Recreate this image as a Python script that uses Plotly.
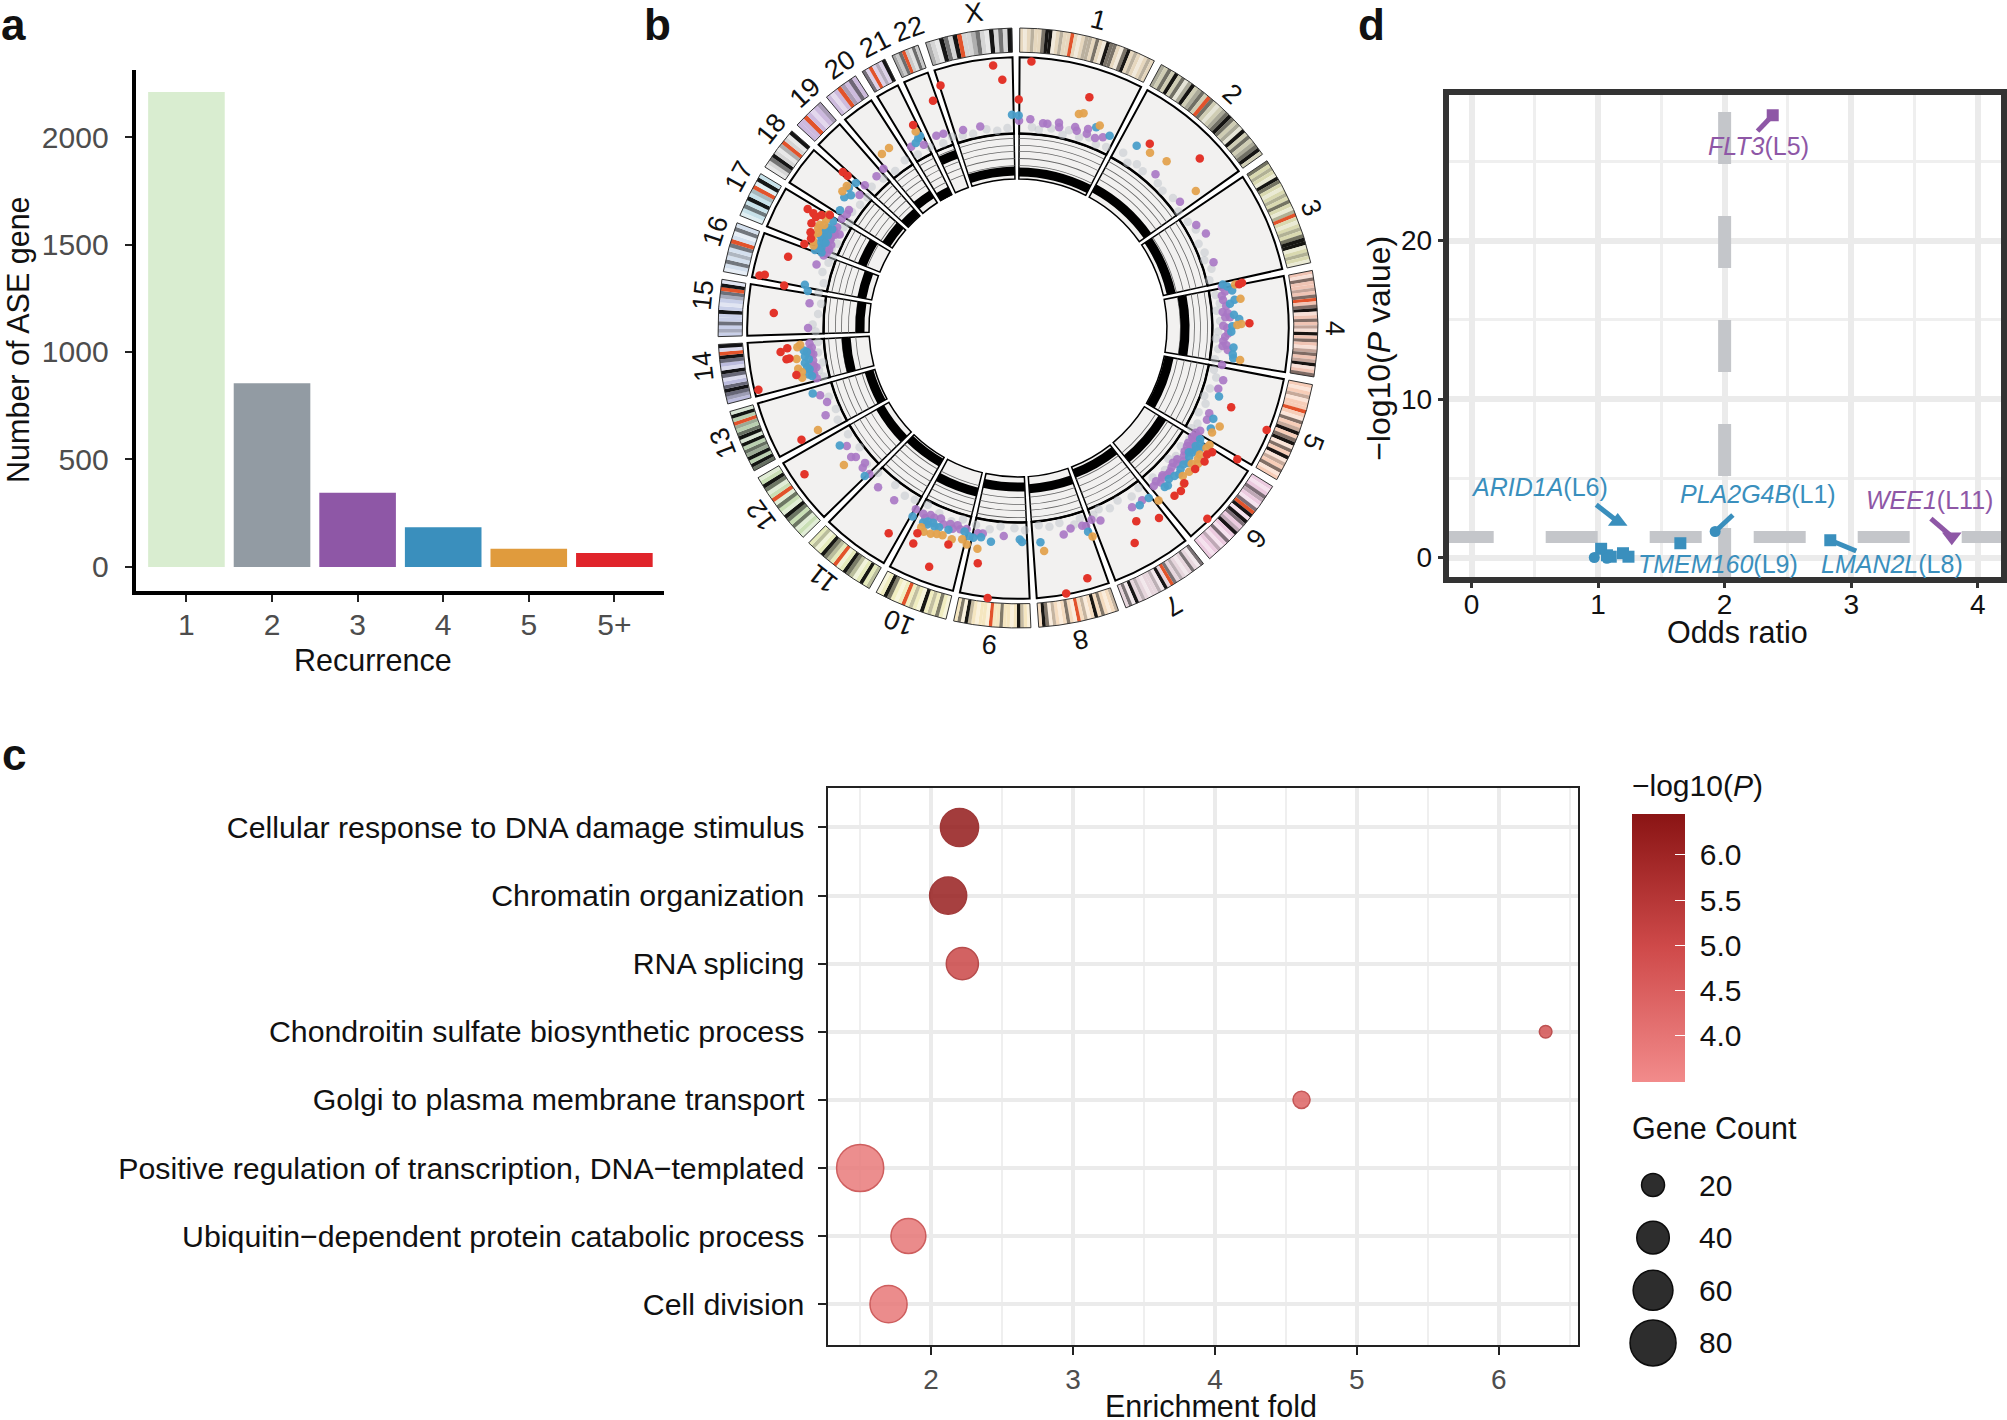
import math
import plotly.graph_objects as go

W, H = 2007, 1420
FONT = "Liberation Sans"

# ---------- panel a ----------
recurrence = ["1", "2", "3", "4", "5", "5+"]
ase_genes = [2210, 855, 345, 185, 85, 65]
bar_colors = ["#d9edd0", "#929ba3", "#8e57a6", "#3a8fbd", "#e09b3d", "#e0242a"]

# ---------- panel c ----------
terms = ["Cellular response to DNA damage stimulus", "Chromatin organization", "RNA splicing",
         "Chondroitin sulfate biosynthetic process", "Golgi to plasma membrane transport",
         "Positive regulation of transcription, DNA\u2212templated",
         "Ubiquitin\u2212dependent protein catabolic process", "Cell division"]
enrichment = [2.2, 2.12, 2.22, 6.33, 4.61, 1.5, 1.84, 1.7]
gene_count = [55, 52, 39, 6, 11, 84, 46, 52]
log_p = [6.25, 6.15, 5.05, 4.75, 4.35, 3.85, 3.95, 3.9]
legend_counts = [20, 40, 60, 80]

# ---------- panel d ----------
odds_sq = [2.38, 1.65, 1.024, 1.07, 1.1, 1.197, 1.24, 2.835]
logp_sq = [27.9, 0.9, 0.55, 0.14, 0.05, 0.27, 0.05, 1.09]
sq_colors = ["#8e57a6"] + ["#3a8fbd"] * 7
odds_circ = [1.925, 0.97, 1.07]
logp_circ = [1.64, 0.0, -0.05]
seg_x = [[2.38, 2.26], [1.155, 0.985], [1.925, 2.065], [2.835, 3.04], [3.795, 3.63]]
seg_y = [[27.9, 26.9], [2.27, 3.33], [1.64, 2.68], [1.09, 0.41], [1.31, 2.46]]
seg_c = ["#8e57a6", "#3a8fbd", "#3a8fbd", "#3a8fbd", "#8e57a6"]
gene_labels = [("FLT3", "L5", 2.27, 25.95, "#8e57a6"), ("ARID1A", "L6", 0.537, 4.45, "#3a8fbd"),
               ("PLA2G4B", "L1", 2.26, 4.0, "#3a8fbd"), ("WEE1", "L11", 3.62, 3.63, "#8e57a6"),
               ("TMEM160", "L9", 1.95, -0.38, "#3a8fbd"), ("LMAN2L", "L8", 3.32, -0.38, "#3a8fbd")]

# ---------- panel b ----------
chroms = ["1", "2", "3", "4", "5", "6", "7", "8", "9", "10", "11", "12", "13", "14", "15", "16",
          "17", "18", "19", "20", "21", "22", "X"]
chrom_len = [248, 242, 198, 190, 181, 171, 159, 145, 138, 133, 135, 133, 114, 107, 102, 90, 83, 80, 58, 64, 46, 50, 156]
label_shift = [1, 1, 1, 1, 0.3, 0.3, 0.3, 0.3, 0.3, 1, 1, 1, 1, 2, 2, 2, 2, 2, 2, 2, 2, 2, 1.5]
chrom_tint = ["#e6d7be", "#cfcdb4", "#d9d9b0", "#f0c4b4", "#f7cdb8", "#eccbe0", "#e7d6dd", "#f5dcc0",
              "#f5e6c0", "#f0edc0", "#e5eabb", "#c9dfb5", "#b9d0b0", "#bcbcde", "#c8cfe8", "#d4e0ee",
              "#c7e2ea", "#d5d5d5", "#ccb9de", "#cdbbdd", "#dcd0e8", "#c9c9c9", "#d5d5d5"]
# one letter per band: 0 tint, 1 pale, 2 mid, 3 dark, 4 black, r red
chrom_bands = ["01020034410200r01022030143301340201020",
               "20304031240230r3010234302140302340",
               "3020143010203012r0102034410201",
               "01300203r0341030214030123024103",
               "0102100r0130240341304120310",
               "01032013r4143024013012010",
               "3103010203r04120010204130",
               "20103040120r10301021340",
               "10240100300r1001024130",
               "10302041020r0103401",
               "2040123401r02340120",
               "10130341031r013401",
               "3404230414302r041",
               "0234301341034r14",
               "020300401023r41",
               "1030203r0130",
               "1030402r140",
               "1034012r014",
               "00r0102",
               "010r2030",
               "30r0204",
               "203r0130",
               "2014304r00230140304"]
track_r = [155, 158, 156, 166, 153, 169, 155, 160, 158, 168, 154, 158, 154, 171, 157, 158, 167, 155, 153, 158, 152, 183, 156]

red_t = [2.9, 0.2, 17.2, 35.6, 47, 78.6, 78.8, 88.8, 110.4, 112.3, 120.9, 122.6, 123.8, 125.6, 128.5, 133, 135, 137, 135.2,
         143.4, 148.5, 151.5, 164.5, 169.7, 186.4, 189.7, 197.8, 200.4, 205.9, 206.1, 212.2, 235.6, 242.7, 256.6, 258, 264.2,
         265, 262.3, 262.4, 273.5, 280.3, 281.5, 281.9, 287.2, 291.5, 293.4, 294.8, 296.9, 298.8, 299.5, 299.3, 299.9, 301,
         311.7, 311.8, 332.7, 339.5, 342.3, 354.6, 356.4]
red_r = [265, 227, 240, 225, 247, 227, 224, 230, 226, 267, 254, 229, 226, 228, 225, 226, 229, 228, 267,
         235, 225, 243, 258, 268, 270, 237, 226, 253, 238, 227, 241, 257, 242, 265, 225, 237,
         230, 232, 229, 243, 236, 262, 257, 239, 228, 224, 227, 230, 229, 240, 233, 225, 218,
         233, 227, 227, 241, 253, 262, 247]
orange_t = [15.9, 17, 22, 37, 41.7, 52.4, 78.7, 82.5, 89, 89.2, 98.2, 116, 118.3, 121.4, 124.8, 126, 130, 131.9, 133.2, 140.8,
            160.3, 173.3, 190.4, 193.3, 194.8, 197.4, 201.5, 204.8, 205.9, 231.8, 243, 257, 262, 265, 265.6, 292, 296.6,
            299.5, 301, 309.7, 307.9, 322, 324.4, 332.5,
            293, 294.5, 295.5, 297.5, 298, 127, 128, 122.5, 258.5, 259.5, 200, 203]
orange_r = [221, 223, 217, 218, 222, 223, 220, 223, 222, 218, 223, 223, 219, 223, 220, 221, 222, 220, 226, 221,
            220, 223, 223, 221, 217, 220, 220, 223, 220, 220, 223, 220, 222, 220, 217, 219, 222,
            219, 219, 221, 221, 219.5, 220, 220,
            221, 223, 220, 222, 218, 224, 219, 222, 219, 222, 219, 222]
blue_t = [358.4, 0.2, 21.3, 25.5, 33.1, 78, 78.8, 80.1, 82.6, 83.5, 86.5, 87.7, 89.5, 91, 95.2, 97, 98, 108.8, 114.9, 117.5,
          121.4, 123.6, 125.5, 123.4, 128.4, 132.2, 133.4, 136.4, 137.3, 142.4, 145.5, 161, 174, 179.5, 178.9, 187.2, 190,
          193.2, 194.7, 201.6, 202.8, 204.8, 206, 209.2, 236.6, 226, 252.3, 256.9, 258.8, 260.7, 262.4, 281.5, 280,
          292.3, 293.9, 295.2, 297.9, 300, 303.5, 308.5, 307, 309.6, 311.8, 332.3, 331.1, 333, 291, 294.5, 296.5,
          291, 292, 293, 294, 295, 296, 297, 298, 122.5, 124.5, 126, 127, 129.5, 131, 135, 257.5, 259.5, 261.5, 263.5, 264,
          199, 203.5, 205, 192]
blue_r = [212, 211, 214, 211.6, 216, 208, 212, 216, 217, 212, 215, 220, 213, 212, 215, 215, 216, 211, 214, 216,
          212, 212, 213, 217, 216, 216, 214, 216, 215, 213, 213.6, 214, 214, 210, 212.6, 214, 211,
          212.6, 209, 213, 214, 215, 215, 214.5, 212, 211.6, 214, 210, 211, 214.5, 213.5, 216, 212,
          211, 209, 213, 213.5, 212, 212, 212, 216, 218, 216, 213, 210, 214, 216, 214, 217,
          209, 213, 215, 211, 216, 210, 215, 209, 215, 215, 210, 213, 213, 214, 212, 213, 213, 210, 211, 214,
          212, 211, 212, 213]
purple_t = [0.3, 3.4, 7, 8.2, 11.3, 11.6, 15.9, 16.6, 19.4, 19.5, 22.1, 24, 41.8, 52.1, 60, 63.3, 71.4, 78.6, 82.2, 84, 85.5, 87, 87.1,
            89.4, 90, 92.4, 93.6, 94.7, 96, 100.3, 104.3, 106.9, 114, 115.9, 119.4, 122.4, 124.3, 125.6, 121.5, 128.7, 133.4, 137.3,
            139.3, 135.5, 132.2, 147.5, 144.2, 156.8, 159, 162, 165.3, 167.5, 161, 183.9, 189.7, 191, 194.3, 198, 200.8, 203.8,
            206, 209.4, 215.7, 221.3, 225.5, 228, 228.6, 231.5, 232.3, 235.4, 245.6, 248.8, 251.2, 257.3, 261, 262.7, 264.6,
            265.8, 259, 270, 276.8, 287.5, 297.7, 296.8, 293, 299.1, 301.8, 304.9, 303.6, 292.5, 295, 310, 313, 317, 319.8, 329.5, 332.8,
            337, 339, 344.5, 349.4,
            291.5, 292, 293.5, 294, 295.5, 296, 297, 298, 290.5, 120.5, 121, 122, 123, 124, 125, 126.5, 127.5, 129.5, 130.5, 131,
            134.5, 136, 138, 258, 259.5, 260, 256, 263, 264, 196, 197, 199, 202, 205, 207, 80, 81, 86, 91.5, 95]
purple_r = [206, 207.7, 205, 205, 208, 203.6, 207.5, 204.5, 209.7, 204.8, 203.6, 207.5, 205, 204, 204.5, 209, 205, 206.6, 205.7, 208, 204, 206.3, 211,
            204, 208, 206, 204.4, 207.8, 209.6, 206, 210.4, 208, 208, 208.7, 207.8, 206, 207.8, 208.4, 206.7, 211, 208, 209,
            207, 205, 206, 211, 211, 208, 204, 206.5, 206, 210, 208, 207, 207, 207.7, 206, 209.7, 208.6, 206,
            210, 206.6, 210.7, 210.5, 206.8, 207.5, 202.6, 205.7, 209.4, 206.5, 209.8, 203.4, 207.6, 207.5, 206, 205, 205.7,
            207.6, 204, 208.5, 208.5, 209.8, 200, 206, 205, 205.6, 205.8, 204.7, 204, 203, 206, 205.5, 208, 206, 207, 209, 204.7,
            207.5, 206.7, 204, 203.7,
            204, 208, 207, 203, 206, 209, 204, 207, 206, 205, 209, 204, 209, 204, 205, 206, 208, 205, 208, 204,
            208, 206, 205, 208, 206, 209, 206, 207, 209, 208, 205, 206, 204, 205, 207, 209, 205, 209, 209, 204]
gray_t = [4, 6, 9.5, 13, 14.5, 17.8, 20.5, 23, 26, 31, 33.5, 36, 38.5, 44, 46.5, 50, 54, 58, 61, 65, 68, 70, 73, 76, 80.5, 83, 85, 88, 91,
          93, 96, 99, 102, 104, 107.5, 110, 112, 115, 118, 120, 123, 126, 129, 131, 134, 138, 143, 146, 150, 153, 156, 158, 162, 164, 168,
          171, 174, 178, 181, 185, 188, 192, 196, 199, 203, 207, 211, 214, 218, 224, 228, 233, 238, 243, 246, 250, 256, 258, 260, 263, 266, 269,
          271, 274, 277, 280, 283, 286, 289, 291, 293, 295, 297, 300, 302, 305, 308, 311, 314, 318, 322, 326, 330, 334, 338, 341, 344, 347, 351, 354, 357]
gray_r = [200, 198, 201, 197, 203, 199, 202, 198, 200, 203, 197, 201, 199, 200, 198, 201, 197, 199, 202, 198, 200, 197, 201, 196, 199, 202, 198, 201, 199,
          197, 200, 198, 199, 203, 200, 197, 201, 198, 202, 199, 203, 200, 202, 198, 203, 200, 199, 202, 198, 201, 197, 200, 199, 203, 198,
          200, 197, 201, 199, 198, 202, 200, 198, 203, 200, 197, 199, 201, 198, 200, 202, 197, 199, 201, 198, 200, 199, 202, 197, 200, 199, 201,
          204, 199, 197, 201, 198, 202, 199, 197, 201, 198, 203, 200, 197, 201, 199, 198, 202, 200, 198, 201, 199, 200, 198, 201, 199, 198, 200, 197, 199]


def dx(a, b):
    return [a / W, b / W]


def dy(top, bottom):
    return [1 - bottom / H, 1 - top / H]


def mix(c, other, f):
    a = [int(c[i:i + 2], 16) for i in (1, 3, 5)]
    b = [int(other[i:i + 2], 16) for i in (1, 3, 5)]
    return "#" + "".join(f"{round(p * (1 - f) + q * f):02x}" for p, q in zip(a, b))


fig = go.Figure()

# panel a
fig.add_trace(go.Bar(x=recurrence, y=ase_genes, width=0.895, marker=dict(color=bar_colors, line_width=0),
                     xaxis="x", yaxis="y", showlegend=False))

# panel b
CX, CY, PR = 1021, 328, 313
GAP = 1.5
deg_per = (360 - GAP * len(chroms)) / sum(chrom_len)
starts, spans = [], []
pos = -0.4 + GAP / 2
for L in chrom_len:
    starts.append(pos)
    spans.append(L * deg_per)
    pos += L * deg_per + GAP
centers = [s + w / 2 for s, w in zip(starts, spans)]

band_t, band_w, band_c = [], [], []
shade = {"1": ("#ffffff", 0.45), "2": ("#555555", 0.3), "3": ("#222222", 0.55), "4": ("#000000", 0.9)}
for s, w, tint, bands in zip(starts, spans, chrom_tint, chrom_bands):
    bw = w / len(bands)
    for i, ch in enumerate(bands):
        band_t.append(s + bw * (i + 0.5))
        band_w.append(bw * 1.02)
        if ch == "0":
            band_c.append(tint)
        elif ch == "r":
            band_c.append("#e2532b")
        else:
            band_c.append(mix(tint, *shade[ch]))
RMAX = 310
fig.add_trace(go.Barpolar(theta=band_t, r=[24] * len(band_t), base=[274] * len(band_t), width=band_w,
                          marker=dict(color=band_c, line_width=0), showlegend=False, subplot="polar"))
fig.add_trace(go.Barpolar(theta=centers, r=[24] * 23, base=[274] * 23, width=spans,
                          marker=dict(color="rgba(0,0,0,0)", line=dict(color="#333333", width=1)),
                          showlegend=False, subplot="polar"))
fig.add_trace(go.Barpolar(theta=centers, r=[76] * 23, base=[193] * 23, width=spans,
                          marker=dict(color="#f2f1f0", line=dict(color="#000000", width=2)),
                          showlegend=False, subplot="polar"))
fig.add_trace(go.Barpolar(theta=centers, r=[45] * 23, base=[148] * 23, width=spans,
                          marker=dict(color="#f2f1f0", line=dict(color="#000000", width=1.5)),
                          showlegend=False, subplot="polar"))
for rr in [161, 168, 175, 181, 188]:
    fig.add_trace(go.Barpolar(theta=centers, r=[0.8] * 23, base=[rr] * 23, width=spans,
                              marker=dict(color="#666666", line_width=0), showlegend=False, subplot="polar"))
fig.add_trace(go.Barpolar(theta=centers, r=[2.4] * 23, base=[192] * 23, width=spans,
                          marker=dict(color="#000000", line_width=0), showlegend=False, subplot="polar"))
fig.add_trace(go.Barpolar(theta=centers, r=[9] * 23, base=[v - 4.5 for v in track_r], width=spans,
                          marker=dict(color="#000000", line_width=0), showlegend=False, subplot="polar"))
for tt, rr, col, op in [(gray_t, gray_r, "#bdc3c9", 0.5), (purple_t, purple_r, "#a877c4", 0.9),
                        (blue_t, blue_r, "#4a9ec9", 0.95), (orange_t, orange_r, "#e3a24e", 0.95),
                        (red_t, red_r, "#e3342a", 1)]:
    fig.add_trace(go.Scatterpolar(theta=tt, r=rr, mode="markers", subplot="polar", showlegend=False,
                                  marker=dict(size=8.5, color=col, opacity=op, line_width=0)))

# panel c
fig.add_trace(go.Scatter(x=enrichment, y=terms, mode="markers", xaxis="x2", yaxis="y2", showlegend=False,
                         marker=dict(size=gene_count, sizemode="area", sizeref=0.0756, opacity=0.85,
                                     color=log_p, cmin=3.49, cmax=6.45,
                                     colorscale=[[0, "#f28b8b"], [0.5, "#cf4a4a"], [1, "#8a1414"]],
                                     line=dict(width=1.5, color=[mix("#cf4a4a", "#8a1414", (v - 3.5) / 3) for v in log_p]),
                                     colorbar=dict(x=1637 / W, xanchor="left", y=1 - 814 / H, yanchor="top",
                                                   len=268 / H, lenmode="fraction", thickness=53, xpad=0, ypad=0,
                                                   outlinewidth=0, tickvals=[4, 4.5, 5, 5.5, 6],
                                                   ticktext=["\u00a04.0", "\u00a04.5", "\u00a05.0",
                                                             "\u00a05.5", "\u00a06.0"],
                                                   ticks="inside", tickcolor="white", ticklen=10,
                                                   tickfont=dict(size=30, color="#111111", family=FONT)))))
fig.add_trace(go.Scatter(x=[0] * 4, y=legend_counts, mode="markers", xaxis="x4", yaxis="y4", showlegend=False,
                         cliponaxis=False,
                         marker=dict(size=legend_counts, sizemode="area", sizeref=0.0756, color="#222222",
                                     line=dict(color="#000000", width=1.5), opacity=0.95)))

# panel d
fig.add_trace(go.Scatter(x=[2, 2], y=[28.1, -1.23], mode="lines", xaxis="x3", yaxis="y3", showlegend=False,
                         line=dict(color="#c4c6ca", width=13, dash="52px,52px")))
fig.add_trace(go.Scatter(x=[-0.236, 4.184], y=[1.3, 1.3], mode="lines", xaxis="x3", yaxis="y3", showlegend=False,
                         line=dict(color="#c4c6ca", width=12, dash="52px,52px")))
for xs, ys, c in zip(seg_x, seg_y, seg_c):
    fig.add_trace(go.Scatter(x=xs, y=ys, mode="lines", xaxis="x3", yaxis="y3", showlegend=False,
                             line=dict(color=c, width=5)))
fig.add_trace(go.Scatter(x=odds_sq, y=logp_sq, mode="markers", xaxis="x3", yaxis="y3", showlegend=False,
                         marker=dict(symbol="square", size=12, color=sq_colors)))
fig.add_trace(go.Scatter(x=odds_circ, y=logp_circ, mode="markers", xaxis="x3", yaxis="y3", showlegend=False,
                         marker=dict(symbol="circle", size=11, color="#3a8fbd")))
fig.add_trace(go.Scatter(x=[1.155], y=[2.27], mode="markers", xaxis="x3", yaxis="y3", showlegend=False,
                         marker=dict(symbol="triangle-up", size=17, color="#3a8fbd")))
fig.add_trace(go.Scatter(x=[3.795], y=[1.31], mode="markers", xaxis="x3", yaxis="y3", showlegend=False,
                         marker=dict(symbol="triangle-down", size=17, color="#8e57a6")))

ann = []


def text(px, py, s, size=30.5, color="#111111", angle=0, bold=False, anchor="center"):
    ann.append(dict(x=px / W, y=1 - py / H, xref="paper", yref="paper", text=f"<b>{s}</b>" if bold else s,
                    showarrow=False, textangle=angle, xanchor=anchor, yanchor="middle",
                    font=dict(size=size, color=color, family=FONT)))


for p, (lx, ly) in {"a": (14, 25), "b": (659, 25), "c": (14, 755), "d": (1376, 25)}.items():
    text(lx, ly, p, size=44, bold=True)
text(374, 660, "Recurrence")
text(18, 339, "Number of ASE gene", angle=-90, size=30.5)
text(1215, 1406, "Enrichment fold")
text(1635, 785, "\u2212log10(<i>P</i>)", anchor="left", size=30)
text(1635, 1128, "Gene Count", anchor="left", size=30.5)
text(1743, 632, "Odds ratio")
text(1383, 348, "\u2212log10(<i>P</i> value)", angle=-90, size=32)

for name, c, sh in zip(chroms, centers, label_shift):
    ang = c + sh
    rad = math.radians(ang)
    text(CX + 318 * math.sin(rad), CY - 318 * math.cos(rad), name, size=27, angle=ang)

for g, lv, gx, gy, col in gene_labels:
    ann.append(dict(x=gx, y=gy, xref="x3", yref="y3", text=f"<i>{g}</i>({lv})", showarrow=False,
                    font=dict(size=25, color=col, family=FONT)))

tickgray = "#4d4d4d"
fig.update_layout(
    width=W, height=H, margin=dict(l=0, r=0, t=0, b=0), paper_bgcolor="white", plot_bgcolor="white",
    font=dict(family=FONT), annotations=ann, showlegend=False,
    xaxis=dict(domain=dx(136, 666), type="category", categoryorder="array", categoryarray=recurrence,
               range=[-0.594, 5.58], showgrid=False, showline=True, linecolor="#000000", linewidth=4, ticks="outside",
               ticklen=7, tickwidth=2, tickcolor="#222222", tickfont=dict(size=30, color=tickgray), ticklabelstandoff=-3, anchor="y"),
    yaxis=dict(domain=dy(70, 591), range=[-112, 2312], tickvals=[0, 500, 1000, 1500, 2000], showgrid=False, zeroline=False,
               showline=True, linecolor="#000000", linewidth=4, ticks="outside", ticklen=7, tickwidth=2,
               tickcolor="#222222", tickfont=dict(size=30, color=tickgray), ticklabelstandoff=10, anchor="x"),
    xaxis2=dict(domain=dx(830, 1583), range=[1.27, 6.56], tickvals=[2, 3, 4, 5, 6], showgrid=True, gridcolor="#ebebeb", gridwidth=4,
                minor=dict(dtick=1, tick0=1.5, showgrid=True, gridcolor="#efefef", gridwidth=2, ticks=""),
                zeroline=False, showline=True, mirror=True, linecolor="#222222", linewidth=2, ticks="outside", ticklen=8,
                tickwidth=2, tickcolor="#222222", tickfont=dict(size=28, color=tickgray), anchor="y2"),
    yaxis2=dict(domain=dy(788, 1345), type="category", categoryorder="array", categoryarray=terms, range=[7.6, -0.58],
                showgrid=True, gridcolor="#ebebeb", gridwidth=4, zeroline=False, showline=True, mirror=True,
                linecolor="#222222", linewidth=2, ticks="outside", ticklen=8, tickwidth=2, tickcolor="#222222",
                tickfont=dict(size=30.3, color="#111111"), ticklabelstandoff=7, anchor="x2"),
    xaxis3=dict(domain=dx(1453, 2007), range=[-0.181, 4.184], tickvals=[0, 1, 2, 3, 4], showgrid=True, gridcolor="#ebebeb", gridwidth=6,
                minor=dict(dtick=1, tick0=0.5, showgrid=True, gridcolor="#efefef", gridwidth=3, ticks=""),
                zeroline=False, showline=True, mirror=True, linecolor="#333333", linewidth=6, ticks="outside", ticklen=5,
                tickwidth=3, tickcolor="#333333", tickfont=dict(size=28, color="#111111"), ticklabelstandoff=-8, anchor="y3"),
    yaxis3=dict(domain=dy(95, 577), range=[-1.23, 29.18], tickvals=[0, 10, 20], showgrid=True, gridcolor="#ebebeb", gridwidth=6,
                minor=dict(dtick=10, tick0=5, showgrid=True, gridcolor="#efefef", gridwidth=3, ticks=""),
                zeroline=False, showline=True, mirror=True, linecolor="#333333", linewidth=6, ticks="outside", ticklen=5,
                tickwidth=3, tickcolor="#333333", tickfont=dict(size=28, color="#111111"), anchor="x3"),
    xaxis4=dict(domain=dx(1635, 1681), range=[-1, 1], visible=False, anchor="y4"),
    yaxis4=dict(domain=dy(1160, 1370), range=[90.3, 10.5], tickvals=legend_counts, side="right", showgrid=False, zeroline=False,
                showline=False, ticks="", tickfont=dict(size=30, color="#111111"), ticklabelstandoff=22, anchor="x4"),
    polar=dict(domain=dict(x=dx(CX - PR, CX + PR), y=dy(CY - PR, CY + PR)), bgcolor="rgba(0,0,0,0)", barmode="overlay",
               radialaxis=dict(visible=False, range=[0, RMAX]),
               angularaxis=dict(visible=False, direction="clockwise", rotation=90, thetaunit="degrees")),
)

fig.write_html("out.html", config={"displayModeBar": False},
               post_script="document.body.style.margin='0';document.body.style.overflow='hidden';")
